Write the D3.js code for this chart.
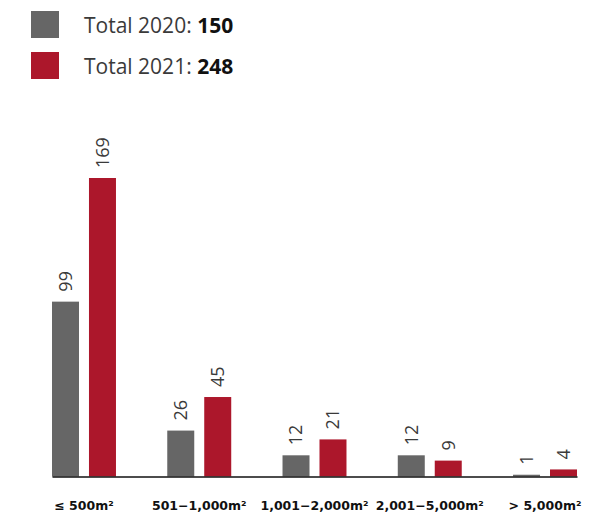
<!DOCTYPE html>
<html>
<head>
<meta charset="utf-8">
<script src="https://cdn.jsdelivr.net/npm/d3@7"></script>
<style>
  html, body { margin: 0; padding: 0; background: #fff; }
  svg { display: block; }
</style>
</head>
<body>
<div id="chart"></div>
<script>
// Size categories of the spaces counted in each year
const categories = ["≤ 500m²", "501−1,000m²", "1,001−2,000m²", "2,001−5,000m²", "> 5,000m²"];
const years = ["2020", "2021"];
const values2020 = [99, 26, 12, 12, 1];
const values2021 = [169, 45, 21, 9, 4];
const totals = [150, 248];

const colors = { "2020": "#666666", "2021": "#ac172b" };

const width = 608, height = 516;

const svg = d3.select("#chart").append("svg")
  .attr("width", width)
  .attr("height", height);

// Legend
const legend = svg.append("g");
years.forEach((yr, i) => {
  const g = legend.append("g").attr("transform", `translate(31,${11 + i * 41})`);
  g.append("rect").attr("width", 28).attr("height", 27).attr("fill", colors[yr]);
  const t = g.append("text")
    .attr("x", 53).attr("y", 22)
    .attr("font-family", "'Open Sans', sans-serif")
    .attr("font-size", 21)
    .attr("fill", "#3a3a3a");
  t.append("tspan").attr("font-weight", 400).text(`Total ${yr}: `);
  t.append("tspan").attr("font-weight", 700).attr("fill", "#111").text(totals[i]);
});

// Scales
const baseline = 476.5;
const x0 = d3.scaleBand().domain(categories).range([52, 577]).paddingInner(0.445).paddingOuter(0);
const x1 = d3.scaleBand().domain(years).range([0, x0.bandwidth()]).paddingInner(0.27).paddingOuter(0);
const y = d3.scaleLinear().domain([0, d3.max(values2021.concat(values2020))]).range([baseline, 178]);

const rows = categories.map((c, i) => ({ cat: c, vals: [
  { year: "2020", v: values2020[i] },
  { year: "2021", v: values2021[i] }
]}));

const groups = svg.append("g").selectAll("g")
  .data(rows).join("g")
  .attr("transform", d => `translate(${x0(d.cat)},0)`);

groups.selectAll("rect")
  .data(d => d.vals).join("rect")
  .attr("x", d => x1(d.year))
  .attr("width", x1.bandwidth())
  .attr("y", d => y(d.v))
  .attr("height", d => baseline - y(d.v))
  .attr("fill", d => colors[d.year]);

// Value labels, rotated to read upwards
groups.selectAll("text.val")
  .data(d => d.vals).join("text")
  .attr("class", "val")
  .attr("transform", d => `translate(${x1(d.year) + x1.bandwidth() / 2},${y(d.v) - 10}) rotate(-90)`)
  .attr("dy", "0.36em")
  .attr("text-anchor", "start")
  .attr("font-family", "'Open Sans', sans-serif")
  .attr("font-weight", 400)
  .attr("font-size", 18)
  .attr("fill", "#3a3a3a")
  .text(d => d.v);

// Baseline axis
const axis = svg.append("g")
  .attr("transform", `translate(0,${baseline})`)
  .call(d3.axisBottom(x0).tickSize(0).tickPadding(25));
axis.select(".domain").attr("stroke", "#111").attr("stroke-width", 1.5);
axis.selectAll("text")
  .attr("font-family", "'DejaVu Sans', sans-serif")
  .attr("font-weight", 700)
  .attr("font-size", 12.5)
  .attr("fill", "#111");
</script>
</body>
</html>
